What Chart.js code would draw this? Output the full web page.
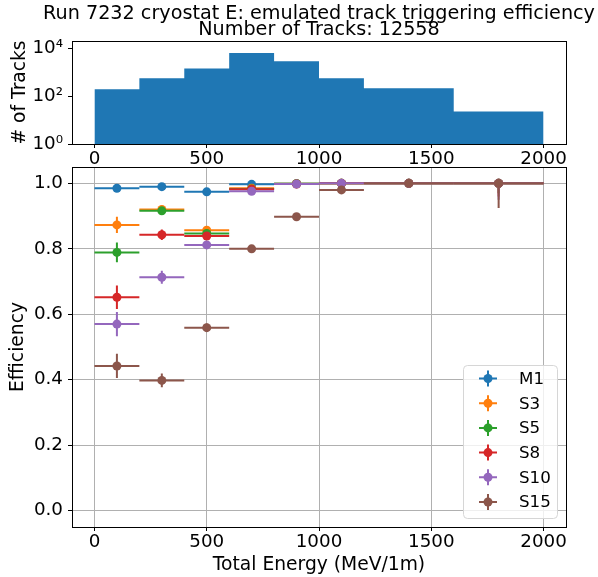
<!DOCTYPE html>
<html>
<head>
<meta charset="utf-8">
<script src="https://cdn.jsdelivr.net/npm/chart.js@4"></script>
<style>
  body { margin: 0; background: #fff; }
  #wrap { position: relative; width: 598px; height: 577px; }
  canvas { position: absolute; left: 0; }
  #histo { top: 0; }
  #eff { top: 150px; }
</style>
</head>
<body>
<div id="wrap">
  <canvas id="histo" width="598" height="172"></canvas>
  <canvas id="eff" width="598" height="427"></canvas>
</div>
<script>
const titleLines = ["Run 7232 cryostat E: emulated track triggering efficiency", "Number of Tracks: 12558"];

// histogram of tracks
const binEdges = [0, 200, 400, 600, 800, 1000, 1200, 1600, 2000];
const trackCounts = [196, 569, 1480, 6600, 2950, 570, 216, 23];
const countTicks = [1, 100, 10000];
const countTickLabels = ["10⁰", "10²", "10⁴"];

// efficiency per bin
const binCenters = [100, 300, 500, 700, 900, 1100, 1400, 1800];
const binHalfWidths = [100, 100, 100, 100, 100, 100, 200, 200];
const energyTicks = [0, 500, 1000, 1500, 2000];
const effTicks = [0, 0.2, 0.4, 0.6, 0.8, 1.0];

const seriesNames = ["M1", "S3", "S5", "S8", "S10", "S15"];
const seriesColors = ["#1f77b4", "#ff7f0e", "#2ca02c", "#d62728", "#9467bd", "#8c564b"];

const effM1 = [0.985, 0.990, 0.974, 0.997, 0.999, 1.0, 1.0, 1.0];
const effS3 = [0.873, 0.920, 0.857, 0.985, 0.999, 1.0, 1.0, 1.0];
const effS5 = [0.789, 0.916, 0.847, 0.983, 0.999, 1.0, 1.0, 1.0];
const effS8 = [0.652, 0.843, 0.839, 0.982, 0.998, 1.0, 1.0, 1.0];
const effS10 = [0.570, 0.713, 0.812, 0.976, 0.998, 1.0, 1.0, 1.0];
const effS15 = [0.442, 0.398, 0.559, 0.800, 0.898, 0.980, 1.0, 1.0];

const errM1 = [0.006, 0.004, 0.005, 0.002, 0.001, 0.002, 0.004, 0.02];
const errS3 = [0.025, 0.012, 0.010, 0.004, 0.002, 0.003, 0.006, 0.03];
const errS5 = [0.030, 0.012, 0.010, 0.004, 0.002, 0.003, 0.006, 0.03];
const errS8 = [0.036, 0.016, 0.010, 0.004, 0.002, 0.003, 0.006, 0.04];
const errS10 = [0.037, 0.020, 0.011, 0.004, 0.002, 0.003, 0.008, 0.05];
const errS15 = [0.037, 0.021, 0.013, 0.005, 0.004, 0.006, 0.010, 0.075];

const effValues = [effM1, effS3, effS5, effS8, effS10, effS15];
const effErrors = [errM1, errS3, errS5, errS8, errS10, errS15];

const FONT = '"DejaVu Sans", sans-serif';
const tickFont = { family: FONT, size: 18.3 };
const labelFont = { family: FONT, size: 18.7 };
Chart.defaults.font.family = FONT;
Chart.defaults.font.size = 18.3;
Chart.defaults.color = "#000";

const frame = {
  id: "frame",
  afterDraw(chart) {
    const { ctx, chartArea: a } = chart;
    ctx.save();
    ctx.strokeStyle = "#000";
    ctx.lineWidth = 1;
    ctx.strokeRect(Math.round(a.left) + 0.5, Math.round(a.top) + 0.5,
      Math.round(a.right - a.left), Math.round(a.bottom - a.top));
    ctx.restore();
  }
};

const figTitle = {
  id: "figTitle",
  afterDraw(chart) {
    const { ctx, chartArea: a } = chart;
    const cx = (a.left + a.right) / 2;
    ctx.save();
    ctx.fillStyle = "#000";
    ctx.font = "19.2px " + FONT;
    ctx.textAlign = "center";
    ctx.textBaseline = "alphabetic";
    ctx.fillText(titleLines[0], cx, 19);
    ctx.fillText(titleLines[1], cx, 34.5);
    ctx.restore();
  }
};

const errorBars = {
  id: "errorBars",
  beforeDatasetDraw(chart, args) {
    const ds = chart.data.datasets[args.index];
    if (!ds.yErr) return;
    const ctx = chart.ctx;
    const xs = chart.scales.x, ys = chart.scales.y;
    ctx.save();
    ctx.strokeStyle = ds.backgroundColor;
    ctx.lineWidth = 2;
    ds.data.forEach((p, i) => {
      const px = xs.getPixelForValue(p.x);
      const py = ys.getPixelForValue(p.y);
      ctx.beginPath();
      ctx.moveTo(xs.getPixelForValue(p.x - ds.xErr[i]), py);
      ctx.lineTo(xs.getPixelForValue(p.x + ds.xErr[i]), py);
      ctx.moveTo(px, ys.getPixelForValue(p.y - ds.yErr[i]));
      ctx.lineTo(px, ys.getPixelForValue(Math.min(1, p.y + ds.yErr[i])));
      ctx.stroke();
    });
    ctx.restore();
  }
};

const effLegend = {
  id: "effLegend",
  afterDraw(chart) {
    const { ctx, chartArea: a } = chart;
    const w = 94, h = 153;
    const x0 = Math.round(a.right - 9 - w), y0 = Math.round(a.bottom - 9 - h);
    ctx.save();
    ctx.fillStyle = "rgba(255,255,255,0.8)";
    ctx.strokeStyle = "#d6d6d6";
    ctx.lineWidth = 1;
    ctx.beginPath();
    ctx.roundRect(x0 + 0.5, y0 + 0.5, w, h, 4);
    ctx.fill();
    ctx.stroke();
    ctx.font = "16.7px " + FONT;
    ctx.textBaseline = "middle";
    seriesNames.forEach((name, i) => {
      const cy = y0 + 13.5 + i * 24.7;
      const mx = x0 + 25;
      ctx.strokeStyle = seriesColors[i];
      ctx.lineWidth = 2;
      ctx.beginPath();
      ctx.moveTo(mx - 9, cy); ctx.lineTo(mx + 9, cy);
      ctx.moveTo(mx, cy - 8); ctx.lineTo(mx, cy + 8);
      ctx.stroke();
      ctx.fillStyle = seriesColors[i];
      ctx.beginPath();
      ctx.arc(mx, cy, 4.5, 0, 2 * Math.PI);
      ctx.fill();
      ctx.fillStyle = "#000";
      ctx.fillText(name, x0 + 56, cy + 1);
    });
    ctx.restore();
  }
};

// top panel: histogram drawn as a filled step line
const histPoints = binEdges.map((e, i) => ({ x: e, y: trackCounts[Math.min(i, trackCounts.length - 1)] }));

new Chart(document.getElementById("histo"), {
  type: "line",
  data: {
    datasets: [{
      data: histPoints,
      stepped: "before",
      fill: "start",
      backgroundColor: "#1f77b4",
      borderColor: "#1f77b4",
      borderWidth: 0,
      pointRadius: 0
    }]
  },
  options: {
    responsive: false,
    animation: false,
    devicePixelRatio: 1,
    layout: { padding: { left: 0, right: 32, top: 41, bottom: 0 } },
    plugins: { legend: { display: false }, tooltip: { enabled: false } },
    scales: {
      x: {
        type: "linear", min: -100, max: 2100,
        afterBuildTicks: (s) => { s.ticks = energyTicks.map((v) => ({ value: v })); },
        afterFit: (s) => { s.height = 28; },
        ticks: { autoSkip: false, maxRotation: 0, padding: 0, font: tickFont, callback: (v) => String(v) },
        grid: { drawOnChartArea: false, tickLength: 4, tickColor: "#000" },
        border: { display: false }
      },
      y: {
        type: "logarithmic", min: 1, max: 20900,
        afterBuildTicks: (s) => { s.ticks = countTicks.map((v) => ({ value: v })); },
        afterFit: (s) => { s.width = 72; },
        ticks: { autoSkip: false, padding: 5, font: tickFont, callback: (v) => countTickLabels[countTicks.indexOf(v)] },
        grid: { drawOnChartArea: false, tickLength: 4, tickColor: "#000" },
        border: { display: false },
        title: { display: true, text: "# of Tracks", font: labelFont, padding: { top: 9, bottom: 0 } }
      }
    }
  },
  plugins: [frame, figTitle]
});

// bottom panel: efficiency with error bars
new Chart(document.getElementById("eff"), {
  type: "scatter",
  data: {
    datasets: seriesNames.map((name, i) => ({
      label: name,
      data: binCenters.map((x, j) => ({ x: x, y: effValues[i][j] })),
      xErr: binHalfWidths,
      yErr: effErrors[i],
      backgroundColor: seriesColors[i],
      borderColor: seriesColors[i],
      pointRadius: 4.5,
      pointHoverRadius: 4.5,
      pointBorderWidth: 0,
      order: seriesNames.length - 1 - i
    }))
  },
  options: {
    responsive: false,
    animation: false,
    devicePixelRatio: 1,
    layout: { padding: { left: 0, right: 32, top: 17, bottom: 0 } },
    plugins: { legend: { display: false }, tooltip: { enabled: false } },
    scales: {
      x: {
        type: "linear", min: -100, max: 2100,
        afterBuildTicks: (s) => { s.ticks = energyTicks.map((v) => ({ value: v })); },
        afterFit: (s) => { s.height = 50; },
        ticks: { autoSkip: false, maxRotation: 0, padding: 0, font: tickFont, callback: (v) => String(v) },
        grid: { color: "#b0b0b0", tickLength: 4, tickColor: "#000" },
        border: { display: false },
        title: { display: true, text: "Total Energy (MeV/1m)", font: labelFont, padding: { top: 0, bottom: 1 } }
      },
      y: {
        type: "linear", min: -0.05, max: 1.05,
        afterBuildTicks: (s) => { s.ticks = effTicks.map((v) => ({ value: v })); },
        afterFit: (s) => { s.width = 72; },
        ticks: { autoSkip: false, padding: 5, font: tickFont, callback: (v) => v.toFixed(1) },
        grid: { color: "#b0b0b0", tickLength: 4, tickColor: "#000" },
        border: { display: false },
        title: { display: true, text: "Efficiency", font: labelFont, padding: { top: 7, bottom: 0 } }
      }
    }
  },
  plugins: [errorBars, frame, effLegend]
});
</script>
</body>
</html>
